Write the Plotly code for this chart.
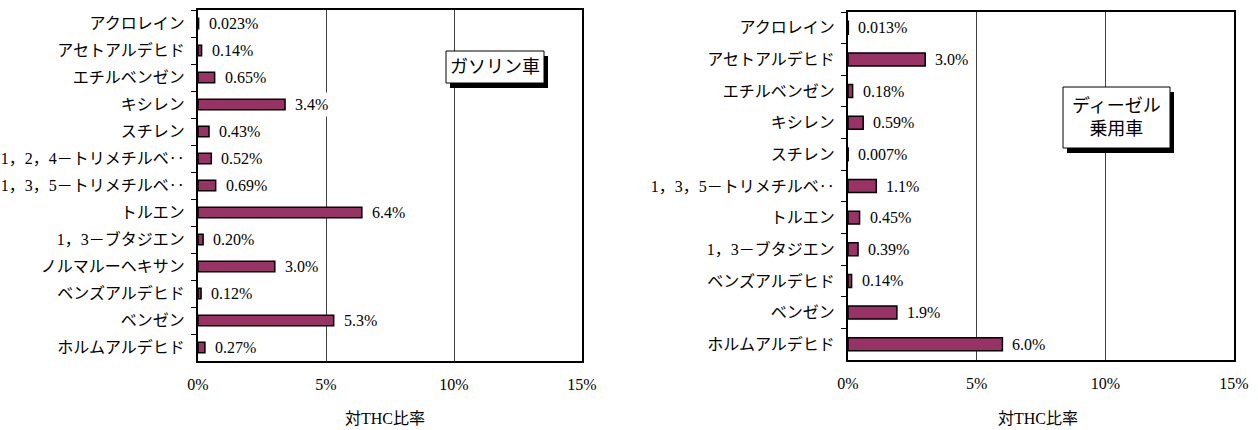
import plotly.graph_objects as go

# ---- data ----
gas_categories = ["アクロレイン", "アセトアルデヒド", "エチルベンゼン", "キシレン", "スチレン",
                  "1，2，4－トリメチルベ‥", "1，3，5－トリメチルベ‥", "トルエン",
                  "1，3－ブタジエン", "ノルマルーヘキサン", "ベンズアルデヒド", "ベンゼン",
                  "ホルムアルデヒド"]
gas_values = [0.023, 0.14, 0.65, 3.4, 0.43, 0.52, 0.69, 6.4, 0.20, 3.0, 0.12, 5.3, 0.27]
gas_labels = ["0.023%", "0.14%", "0.65%", "3.4%", "0.43%", "0.52%", "0.69%", "6.4%",
              "0.20%", "3.0%", "0.12%", "5.3%", "0.27%"]

dsl_categories = ["アクロレイン", "アセトアルデヒド", "エチルベンゼン", "キシレン", "スチレン",
                  "1，3，5－トリメチルベ‥", "トルエン", "1，3－ブタジエン",
                  "ベンズアルデヒド", "ベンゼン", "ホルムアルデヒド"]
dsl_values = [0.013, 3.0, 0.18, 0.59, 0.007, 1.1, 0.45, 0.39, 0.14, 1.9, 6.0]
dsl_labels = ["0.013%", "3.0%", "0.18%", "0.59%", "0.007%", "1.1%", "0.45%", "0.39%",
              "0.14%", "1.9%", "6.0%"]

x_tickvals = [0, 5, 10, 15]
x_ticktext = ["0%", "5%", "10%", "15%"]
axis_title = "対THC比率"
gas_box = "ガソリン車"
dsl_box = "ディーゼル<br>乗用車"

W, H = 1258, 430
FONT = "Liberation Serif, Noto Sans CJK JP, serif"
BAR = "#993366"

fig = go.Figure()
fig.add_trace(go.Bar(x=gas_values, y=gas_categories, orientation="h", width=0.38,
                     marker=dict(color=BAR, line=dict(color="black", width=1.5)),
                     xaxis="x", yaxis="y", showlegend=False))
fig.add_trace(go.Bar(x=dsl_values, y=dsl_categories, orientation="h", width=0.41,
                     marker=dict(color=BAR, line=dict(color="black", width=1.5)),
                     xaxis="x2", yaxis="y2", showlegend=False))

annotations = []
for v, c, t in zip(gas_values, gas_categories, gas_labels):
    annotations.append(dict(x=v, y=c, xref="x", yref="y", text=t, showarrow=False,
                            xanchor="left", xshift=6, bgcolor="white", borderpad=3,
                            font=dict(family=FONT, size=16, color="black")))
for v, c, t in zip(dsl_values, dsl_categories, dsl_labels):
    annotations.append(dict(x=v, y=c, xref="x2", yref="y2", text=t, showarrow=False,
                            xanchor="left", xshift=6, bgcolor="white", borderpad=3,
                            font=dict(family=FONT, size=16, color="black")))


def px(x):
    return x / W


def py(y):
    return 1 - y / H


shapes = []


def textbox(x0, y0, x1, y1, text):
    shapes.append(dict(type="rect", xref="paper", yref="paper",
                       x0=px(x0 + 4), x1=px(x1 + 4), y0=py(y1 + 5), y1=py(y0 + 5),
                       fillcolor="black", line=dict(width=0), layer="above"))
    shapes.append(dict(type="rect", xref="paper", yref="paper",
                       x0=px(x0), x1=px(x1), y0=py(y1), y1=py(y0),
                       fillcolor="white", line=dict(color="black", width=1), layer="above"))
    annotations.append(dict(x=px((x0 + x1) / 2), y=py((y0 + y1) / 2), xref="paper", yref="paper",
                            text=text, showarrow=False, xanchor="center", yanchor="middle",
                            font=dict(family=FONT, size=18, color="black")))


textbox(446, 51, 544, 83, gas_box)
textbox(1063, 87, 1170, 148, dsl_box)

# axis titles
annotations.append(dict(x=px(385), y=py(418), xref="paper", yref="paper", text=axis_title,
                        showarrow=False, xanchor="center", yanchor="middle",
                        font=dict(family=FONT, size=16, color="black")))
annotations.append(dict(x=px(1038), y=py(418), xref="paper", yref="paper", text=axis_title,
                        showarrow=False, xanchor="center", yanchor="middle",
                        font=dict(family=FONT, size=16, color="black")))

xaxis_common = dict(range=[0, 15], tickvals=x_tickvals, ticktext=x_ticktext,
                    showgrid=True, gridcolor="#404040", gridwidth=1, zeroline=False,
                    showline=True, linecolor="black", linewidth=2, mirror=True,
                    ticks="", ticklabelstandoff=8, fixedrange=True, automargin=False,
                    tickfont=dict(family=FONT, size=16, color="black"))
yaxis_common = dict(autorange="reversed", type="category", showgrid=False, zeroline=False,
                    showline=True, linecolor="black", linewidth=2, mirror=True,
                    ticks="outside", tickson="boundaries", ticklen=5, tickcolor="black",
                    tickwidth=1, ticklabelstandoff=8, automargin=False, fixedrange=True,
                    tickfont=dict(family=FONT, size=16, color="black"))

fig.update_layout(
    width=W, height=H, margin=dict(l=0, r=0, t=0, b=0),
    paper_bgcolor="white", plot_bgcolor="white",
    xaxis=dict(domain=[px(198), px(582)], anchor="y", **xaxis_common),
    yaxis=dict(domain=[py(361), py(10)], anchor="x", **yaxis_common),
    xaxis2=dict(domain=[px(848), px(1234)], anchor="y2", **xaxis_common),
    yaxis2=dict(domain=[py(360), py(12)], anchor="x2", **yaxis_common),
    annotations=annotations, shapes=shapes, bargap=0.6,
    font=dict(family=FONT, color="black"),
)

fig.write_html("out.html", config={"displayModeBar": False},
               post_script="document.body.style.margin='0';document.body.style.overflow='hidden';")
